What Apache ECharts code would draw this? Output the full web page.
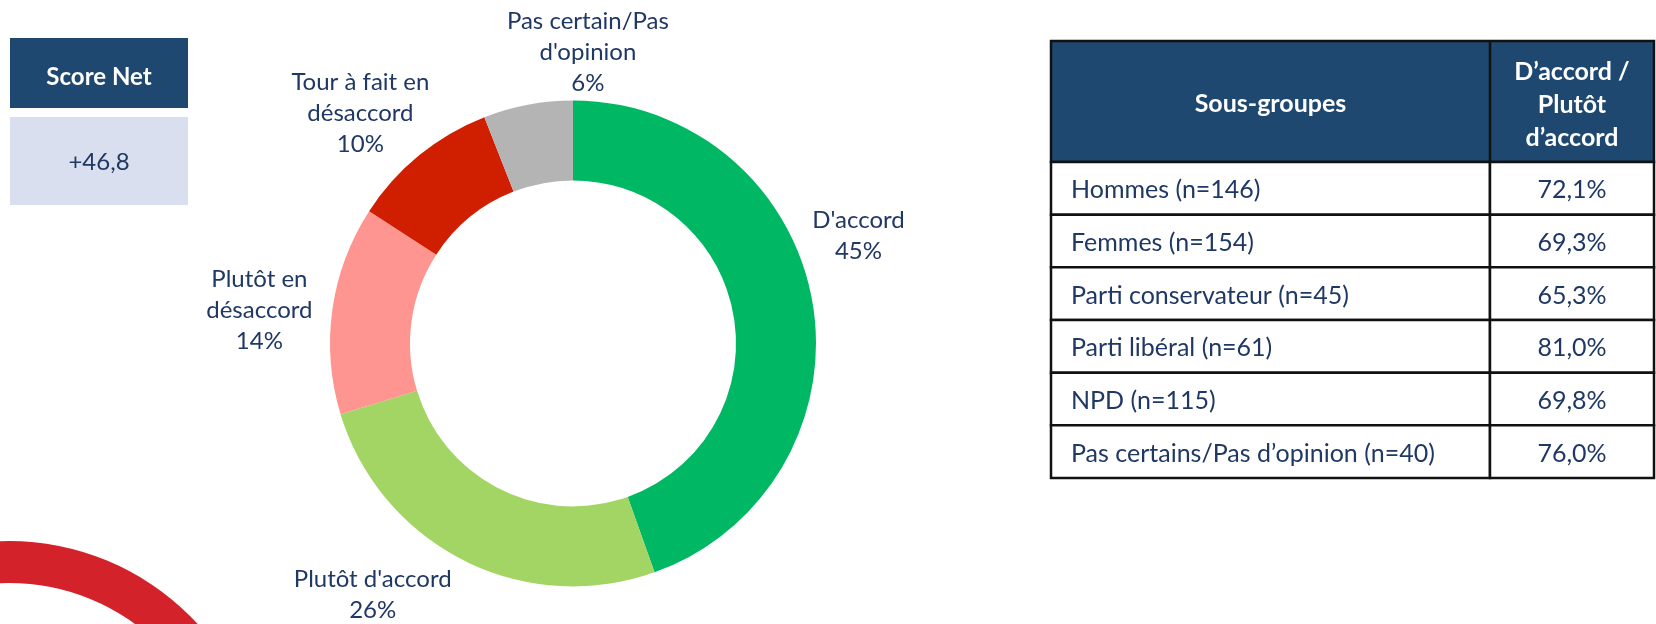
<!DOCTYPE html>
<html><head><meta charset="utf-8">
<script src="https://cdn.jsdelivr.net/npm/echarts@6/dist/echarts.min.js"></script>
<style>html,body{margin:0;padding:0;background:#fff}#c{width:1656px;height:624px}</style>
</head><body><div id="c"></div>
<script>
// ---- data ----
const sliceNames = ["D'accord", "Plutôt d'accord", "Plutôt en\ndésaccord", "Tour à fait en\ndésaccord", "Pas certain/Pas\nd'opinion"];
const sliceValues = [45, 26, 14, 10, 6];
const scoreTitle = 'Score Net';
const scoreValue = '+46,8';
const tableHeaderGroup = 'Sous-groupes';
const tableHeaderValue = 'D’accord /\nPlutôt\nd’accord';
const subgroups = ['Hommes (n=146)', 'Femmes (n=154)', 'Parti conservateur (n=45)', 'Parti libéral (n=61)', 'NPD (n=115)', 'Pas certains/Pas d’opinion (n=40)'];
const agreeValues = [72.1, 69.3, 65.3, 81.0, 69.8, 76.0];

// ---- styles ----
const sliceColors = ['#00b863', '#a2d563', '#ff9590', '#d01f00', '#b4b4b4'];
const navy = '#1f3864';
const headFill = '#1f4871';
const font = 'Lato';
const labelNudge = [[46, -66], [-91, 34], [-73, 1], [-59, -42], [60, -52]];
const colSplit = 0.728;

const fmtPct = v => v.toFixed(1).replace('.', ',') + '%';

const chart = echarts.init(document.getElementById('c'), null, {renderer: 'canvas'});
chart.setOption({
  backgroundColor: '#fff',
  animation: false,
  grid: {left: 1051, top: 162, width: 603, height: 316, containLabel: false},
  xAxis: {type: 'value', min: 0, max: 1, show: false},
  yAxis: {type: 'category', data: subgroups, inverse: true, show: false},
  graphic: [
    {type: 'ring', z: -10, shape: {cx: 9, cy: 797, r: 256, r0: 214}, style: {fill: '#d3222a'}},
    {type: 'rect', shape: {x: 10, y: 38, width: 178, height: 70}, style: {fill: headFill}},
    {type: 'text', x: 99, y: 77, style: {text: scoreTitle, fill: '#fff', fontSize: 24, fontWeight: 'bold', fontFamily: font, align: 'center', verticalAlign: 'middle'}},
    {type: 'rect', shape: {x: 10, y: 117, width: 178, height: 88}, style: {fill: '#d9dfee'}},
    {type: 'text', x: 99, y: 162, style: {text: scoreValue, fill: navy, fontSize: 24, fontFamily: font, align: 'center', verticalAlign: 'middle'}},
    {type: 'rect', shape: {x: 1051, y: 41, width: 603, height: 121}, style: {fill: headFill, stroke: '#111', lineWidth: 2.5}},
    {type: 'line', shape: {x1: 1051 + 603 * colSplit, y1: 41, x2: 1051 + 603 * colSplit, y2: 162}, style: {stroke: '#111', lineWidth: 2.5}},
    {type: 'text', x: 1051 + 603 * colSplit / 2, y: 104, style: {text: tableHeaderGroup, fill: '#fff', fontSize: 25, fontWeight: 'bold', fontFamily: font, align: 'center', verticalAlign: 'middle'}},
    {type: 'text', x: 1051 + 603 * (1 + colSplit) / 2, y: 105, style: {text: tableHeaderValue, fill: '#fff', fontSize: 25, lineHeight: 33, fontWeight: 'bold', fontFamily: font, align: 'center', verticalAlign: 'middle'}}
  ],
  series: [
    {
      type: 'pie',
      center: [573, 343.4],
      radius: [163, 243],
      startAngle: 90,
      clockwise: true,
      avoidLabelOverlap: false,
      itemStyle: {borderWidth: 0},
      emphasis: {disabled: true},
      label: {
        show: true,
        position: 'outside',
        distanceToLabelLine: 0,
        formatter: p => p.name.split('\n').concat([p.value + '%']).map(l => '{t|' + l + '}').join('\n'),
        rich: {t: {fontSize: 24, lineHeight: 31, color: navy, fontFamily: font, align: 'center'}}
      },
      labelLine: {show: false, length: 0, length2: 0},
      labelLayout: p => ({align: 'center', verticalAlign: 'middle', dx: labelNudge[p.dataIndex][0], dy: labelNudge[p.dataIndex][1]}),
      data: sliceNames.map((n, i) => ({name: n, value: sliceValues[i], itemStyle: {color: sliceColors[i]}}))
    },
    {
      type: 'custom',
      coordinateSystem: 'cartesian2d',
      silent: true,
      data: subgroups.map((s, i) => [0, i]),
      renderItem: (params, api) => {
        const i = params.dataIndex;
        const cs = params.coordSys;
        const yc = api.coord([0, i])[1];
        const h = api.size([0, 1])[1];
        const top = yc - h / 2;
        const sx = cs.x + cs.width * colSplit;
        const right = cs.x + cs.width;
        const cell = {fill: '#fff', stroke: '#111', lineWidth: 2.5};
        return {type: 'group', children: [
          {type: 'rect', shape: {x: cs.x, y: top, width: sx - cs.x, height: h}, style: cell},
          {type: 'rect', shape: {x: sx, y: top, width: right - sx, height: h}, style: cell},
          {type: 'text', x: cs.x + 20, y: yc + 2, style: {text: subgroups[i], fill: navy, fontSize: 25, fontFamily: font, align: 'left', verticalAlign: 'middle'}},
          {type: 'text', x: (sx + right) / 2, y: yc + 2, style: {text: fmtPct(agreeValues[i]), fill: navy, fontSize: 25, fontFamily: font, align: 'center', verticalAlign: 'middle'}}
        ]};
      }
    }
  ]
});
</script>
</body></html>
